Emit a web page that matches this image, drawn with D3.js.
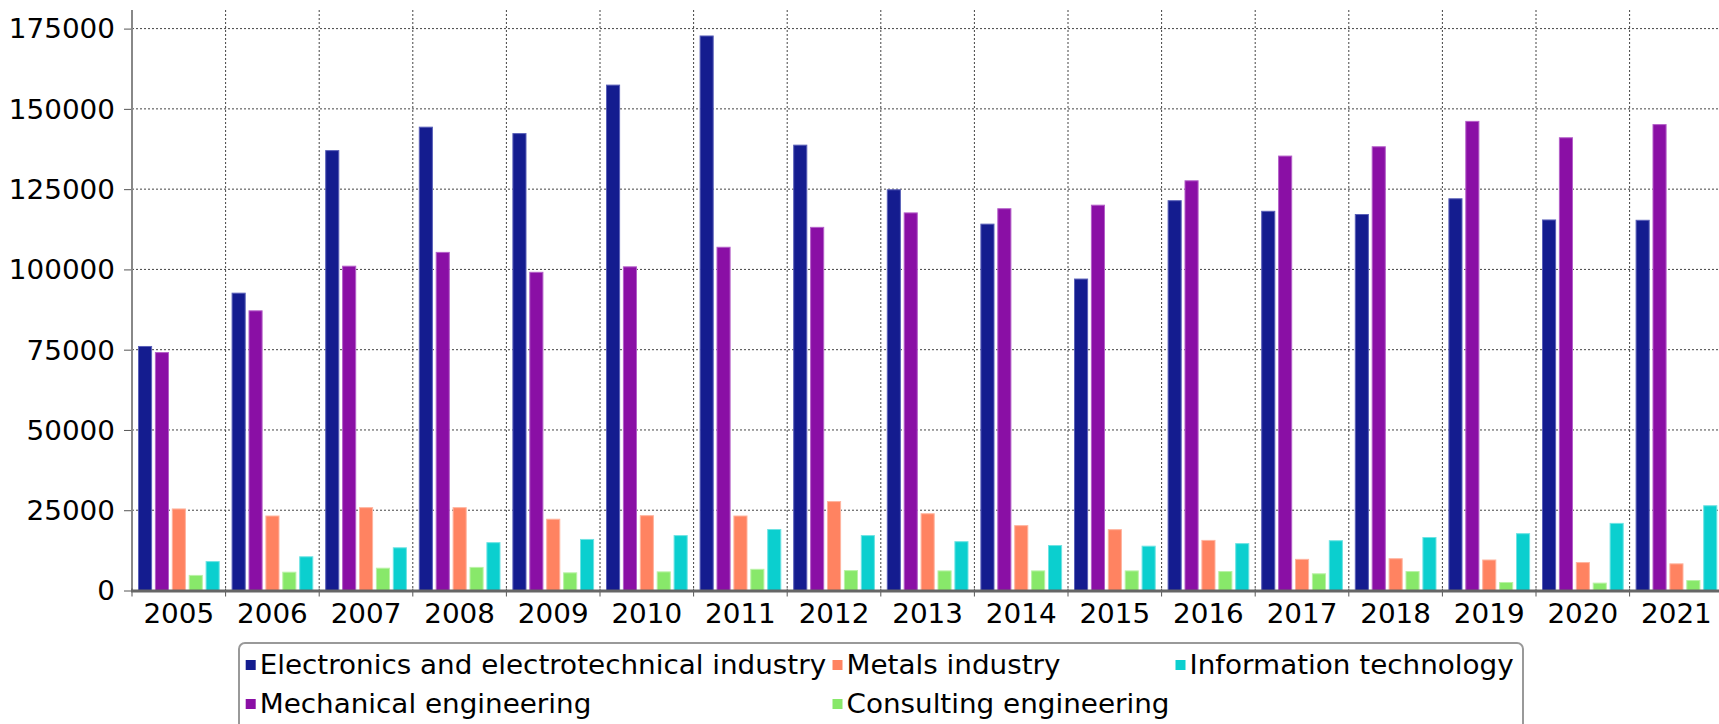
<!DOCTYPE html>
<html>
<head>
<meta charset="utf-8">
<script src="https://cdn.jsdelivr.net/npm/d3@7"></script>
<style>
  body { margin: 0; background: #fff; overflow: hidden; }
  text { font-family: Verdana, "DejaVu Sans", sans-serif; fill: #000; }
</style>
</head>
<body>
<div id="chart"></div>
<script>
// Chart data
var years = ["2005", "2006", "2007", "2008", "2009", "2010", "2011", "2012", "2013",
             "2014", "2015", "2016", "2017", "2018", "2019", "2020", "2021"];
var seriesNames = ["Electronics and electrotechnical industry", "Mechanical engineering",
                   "Metals industry", "Consulting engineering", "Information technology"];
var electronics = [76000, 92600, 137000, 144300, 142300, 157400, 172700, 138700, 124800,
                   114100, 97000, 121400, 118100, 117100, 122000, 115400, 115300];
var mechanical = [74100, 87100, 101000, 105300, 99100, 100800, 106900, 113100, 117600,
                  118900, 120000, 127600, 135300, 138200, 146100, 141000, 145100];
var metals = [25400, 23200, 25800, 25800, 22200, 23300, 23200, 27700, 23900,
              20200, 18950, 15600, 9700, 9900, 9500, 8700, 8300];
var consulting = [4700, 5700, 6950, 7200, 5500, 5800, 6600, 6200, 6100,
                  6100, 6100, 5900, 5200, 5900, 2500, 2300, 3100];
var infoTech = [9000, 10500, 13300, 14900, 15900, 17100, 19000, 17100, 15200,
                14000, 13800, 14600, 15500, 16500, 17700, 20900, 26400];
var yTicks = [0, 25000, 50000, 75000, 100000, 125000, 150000, 175000];

var seriesValues = [electronics, mechanical, metals, consulting, infoTech];
var colors = ["#141c8f", "#8a0fa5", "#ff8361", "#88e86a", "#0bcfcf"];
var strokes = ["#5a60b8", "#b45fc8", "#ffb49f", "#b9f2a6", "#6ee3e3"];

// SVG size
var svgWidth = 1719;
var svgHeight = 724;

// Plot area (runs a little past the right edge, as in the reference)
var plotLeft = 132;
var plotTop = 10;
var plotBottom = 590.5;
var bandStep = 93.6;

// Reference font is a bit wider than DejaVu Sans, so stretch text horizontally
var stretch = 1.07;
var fontSize = "26px";

var svg = d3.select("#chart")
    .append("svg")
    .attr("width", svgWidth)
    .attr("height", svgHeight);

// Scales
var x0 = d3.scaleBand()
    .domain(years)
    .range([plotLeft, plotLeft + years.length * bandStep])
    .padding(0);

var x1 = d3.scaleBand()
    .domain(d3.range(seriesNames.length))
    .range([6.5, 87.2])
    .paddingInner(0.225)
    .paddingOuter(0);

var y = d3.scaleLinear()
    .domain([0, 175000])
    .range([plotBottom, 28.6]);

// Gridlines
var grid = svg.append("g").attr("class", "grid");

grid.selectAll("line.h")
    .data(yTicks.filter(d => d > 0))
    .enter()
    .append("line")
    .attr("x1", plotLeft)
    .attr("x2", svgWidth + 10)
    .attr("y1", d => y(d))
    .attr("y2", d => y(d))
    .attr("stroke", "#444")
    .attr("stroke-width", 1)
    .attr("stroke-dasharray", "2,2");

grid.selectAll("line.v")
    .data(years.slice(1))
    .enter()
    .append("line")
    .attr("x1", d => x0(d))
    .attr("x2", d => x0(d))
    .attr("y1", plotTop)
    .attr("y2", plotBottom)
    .attr("stroke", "#444")
    .attr("stroke-width", 1)
    .attr("stroke-dasharray", "2,2");

// Bars
var groups = svg.selectAll("g.year")
    .data(years)
    .enter()
    .append("g")
    .attr("class", "year")
    .attr("transform", d => `translate(${x0(d)},0)`);

groups.selectAll("rect")
    .data((d, i) => seriesValues.map((vals, s) => ({ s: s, v: vals[i] })))
    .enter()
    .append("rect")
    .attr("x", d => x1(d.s))
    .attr("y", d => y(d.v))
    .attr("width", x1.bandwidth())
    .attr("height", d => y(0) - y(d.v))
    .attr("fill", d => colors[d.s])
    .attr("stroke", d => strokes[d.s])
    .attr("stroke-width", 1);

// Y axis
var leftAxis = d3.axisLeft(y)
    .tickValues(yTicks)
    .tickSize(8)
    .tickPadding(9)
    .tickFormat(d3.format("d"));

var yAxisG = svg.append("g")
    .attr("transform", `translate(${plotLeft},0)`)
    .call(leftAxis);
yAxisG.select(".domain").remove();
yAxisG.selectAll(".tick line").attr("stroke", "#555").attr("stroke-width", 1);
yAxisG.selectAll(".tick text")
    .style("font-size", fontSize)
    .attr("font-family", null)
    .attr("x", -17 / stretch)
    .attr("dy", "0.36em")
    .attr("transform", `scale(${stretch},1)`);

svg.append("line")
    .attr("x1", plotLeft)
    .attr("x2", plotLeft)
    .attr("y1", plotTop)
    .attr("y2", plotBottom)
    .attr("stroke", "#888")
    .attr("stroke-width", 2);

// X axis
var bottomAxis = d3.axisBottom(x0)
    .tickSize(0)
    .tickPadding(14);

var xAxisG = svg.append("g")
    .attr("transform", `translate(0,${plotBottom})`)
    .call(bottomAxis);
xAxisG.select(".domain").remove();
xAxisG.selectAll(".tick text")
    .style("font-size", fontSize)
    .attr("font-family", null)
    .attr("dy", "0.71em")
    .attr("transform", `scale(${stretch},1)`);

// Band boundary tick marks
xAxisG.selectAll("line.sep")
    .data(years)
    .enter()
    .append("line")
    .attr("x1", d => x0(d))
    .attr("x2", d => x0(d))
    .attr("y1", -2)
    .attr("y2", 6)
    .attr("stroke", "#555")
    .attr("stroke-width", 1);

svg.append("line")
    .attr("x1", plotLeft - 1)
    .attr("x2", svgWidth + 10)
    .attr("y1", plotBottom + 0.5)
    .attr("y2", plotBottom + 0.5)
    .attr("stroke", "#666")
    .attr("stroke-width", 3);

// Legend (two rows, filled column by column)
var legendLeft = 239;
var legendTop = 643;
var legendRight = 1523;
var rowY = [665, 704];
var colX = [245.7, 832.5, 1175.5];

var legend = svg.append("g").attr("class", "legend");

legend.append("rect")
    .attr("x", legendLeft)
    .attr("y", legendTop)
    .attr("width", legendRight - legendLeft)
    .attr("height", svgHeight - legendTop + 6)
    .attr("rx", 6)
    .attr("fill", "#fff")
    .attr("stroke", "#999")
    .attr("stroke-width", 2);

seriesNames.forEach(function(name, i) {
    var col = Math.floor(i / 2);
    var row = i % 2;
    var item = legend.append("g")
        .attr("transform", `translate(${colX[col]},${rowY[row]})`);
    item.append("rect")
        .attr("x", 0)
        .attr("y", -5)
        .attr("width", 10)
        .attr("height", 10)
        .attr("fill", colors[i]);
    item.append("text")
        .attr("x", 14 / stretch)
        .attr("y", 0)
        .attr("dy", "0.36em")
        .attr("transform", `scale(${stretch},1)`)
        .style("font-size", fontSize)
        .text(name);
});
</script>
</body>
</html>
